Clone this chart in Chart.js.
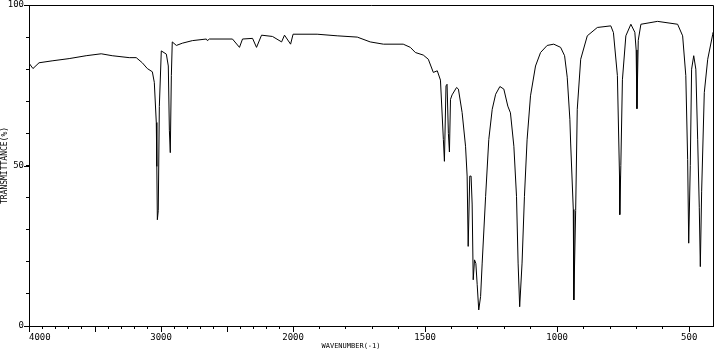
<!DOCTYPE html>
<html>
<head>
<meta charset="utf-8">
<script src="https://cdn.jsdelivr.net/npm/chart.js@4/dist/chart.umd.min.js"></script>
<style>
  html, body { margin: 0; padding: 0; background: #fff; }
  #wrap { width: 715px; height: 356px; }
</style>
</head>
<body>
<div id="wrap"><canvas id="chartIr"></canvas></div>
<script>
// IR spectrum — transmittance vs wavenumber (axis is compressed 2x above 2000 cm-1)
const wavenumbers = [
  4000, 3970, 3924, 3825, 3696, 3567, 3453, 3370, 3241, 3188, 3142, 3104, 3066, 3051, 3036, 3032,
  3028, 3021, 3013, 2998, 2960, 2945, 2937, 2930, 2922, 2915, 2884, 2839, 2763, 2657, 2649, 2634,
  2459, 2406, 2383, 2307, 2277, 2239, 2156, 2087, 2065, 2019, 2000, 1909, 1833, 1757, 1708, 1658,
  1583, 1556, 1537, 1507, 1488, 1469, 1454, 1442, 1431, 1427, 1421, 1417, 1412, 1408, 1404, 1398,
  1381, 1374, 1360, 1347, 1341, 1337, 1331, 1326, 1322, 1318, 1313, 1308, 1303, 1297, 1290, 1284,
  1271, 1259, 1246, 1233, 1217, 1202, 1187, 1177, 1164, 1154, 1148, 1142, 1133, 1124, 1114, 1101,
  1082, 1063, 1038, 1013, 987, 972, 962, 952, 949, 939, 937, 930, 924, 911, 886, 848,
  797, 787, 772, 764, 763, 759, 753, 740, 721, 706, 701, 698, 693, 683, 620, 544,
  525, 513, 506, 502, 496, 491, 483, 475, 468, 462, 458, 453, 443, 430, 411, 410
];
const transmittance = [
  81.9, 80.2, 82.0, 82.6, 83.3, 84.2, 84.8, 84.2, 83.6, 83.6, 82.0, 80.2, 79.2, 75.9, 63.4, 49.7,
  33.1, 36.0, 68.4, 85.7, 84.7, 81.0, 61.0, 54.0, 78.0, 88.5, 87.4, 88.1, 88.9, 89.4, 88.9, 89.4,
  89.4, 86.8, 89.4, 89.6, 86.8, 90.6, 90.2, 88.5, 90.6, 87.8, 90.9, 90.9, 90.4, 90.0, 88.5, 87.8,
  87.8, 86.8, 85.2, 84.4, 83.1, 79.0, 79.5, 76.6, 58.1, 51.3, 74.8, 75.3, 60.0, 54.2, 70.6, 72.0,
  74.3, 73.8, 66.5, 56.0, 46.7, 24.8, 46.7, 46.7, 38.0, 14.4, 20.6, 19.5, 13.0, 5.0, 9.2, 19.6,
  40.4, 58.1, 67.5, 72.2, 74.6, 73.8, 68.5, 66.4, 56.0, 40.4, 19.6, 6.0, 19.6, 40.4, 58.0, 71.7,
  81.0, 85.2, 87.4, 87.8, 86.8, 84.2, 77.5, 64.4, 57.0, 36.3, 8.1, 36.0, 67.5, 83.1, 90.4, 93.0,
  93.5, 91.4, 78.0, 46.7, 34.7, 50.0, 76.7, 90.4, 94.0, 91.5, 86.0, 67.7, 89.0, 94.0, 94.9, 94.0,
  90.4, 78.0, 51.9, 25.8, 50.0, 80.0, 84.2, 80.0, 58.0, 37.0, 18.5, 42.0, 72.7, 83.1, 90.9, 91.5
];
const xLabels = [4000, 3000, 2000, 1500, 1000, 500];
const xLongTicks = [4000, 3500, 3000, 2500, 2000, 1500, 1000, 500];
const yLabels = [0, 50, 100];
const wnMax = 4000, wnBreak = 2000, wnMin = 410;

// wavenumber -> axis units (half scale above the break)
function toAxis(w) {
  return w >= wnBreak ? wnMax - w : (wnMax - wnBreak) + 2 * (wnBreak - w);
}
function fromAxis(u) {
  var b = wnMax - wnBreak;
  return u <= b ? wnMax - u : wnBreak - (u - b) / 2;
}

const points = wavenumbers.map(function (w, i) {
  return { x: toAxis(w), y: transmittance[i] };
});

const tickFont = { family: 'DejaVu Sans Mono', size: 9 };

// frame, long tick marks and the x title
const framePlugin = {
  id: 'frame',
  afterDraw: function (chart) {
    var ctx = chart.ctx, a = chart.chartArea;
    var xs = chart.scales.x, ys = chart.scales.y;
    ctx.save();
    ctx.strokeStyle = '#000';
    ctx.lineWidth = 1;
    ctx.beginPath();
    ctx.moveTo(a.left, a.top + 0.5);
    ctx.lineTo(a.right + 0.5, a.top + 0.5);
    ctx.lineTo(a.right + 0.5, a.bottom);
    xLongTicks.forEach(function (w) {
      var px = Math.round(xs.getPixelForValue(toAxis(w))) + 0.5;
      ctx.moveTo(px, a.bottom);
      ctx.lineTo(px, a.bottom + 6);
    });
    yLabels.forEach(function (v) {
      var py = Math.round(ys.getPixelForValue(v)) + 0.5;
      ctx.moveTo(a.left - 5, py);
      ctx.lineTo(a.left, py);
    });
    ctx.stroke();
    ctx.fillStyle = '#000';
    ctx.font = '7px "DejaVu Sans Mono"';
    ctx.textAlign = 'center';
    ctx.textBaseline = 'middle';
    ctx.fillText('WAVENUMBER(-1)', 351, 346);
    ctx.restore();
  }
};

new Chart(document.getElementById('chartIr'), {
  type: 'scatter',
  data: {
    datasets: [{
      label: 'Transmittance',
      data: points,
      showLine: true,
      borderColor: '#000',
      borderWidth: 1,
      pointRadius: 0,
      tension: 0
    }]
  },
  options: {
    responsive: true,
    maintainAspectRatio: false,
    animation: false,
    devicePixelRatio: 1,
    layout: { padding: { top: 5, right: 2, left: 0, bottom: 0 } },
    plugins: { legend: { display: false }, tooltip: { enabled: false } },
    scales: {
      x: {
        type: 'linear',
        min: 0,
        max: toAxis(wnMin),
        afterBuildTicks: function (scale) {
          var ticks = [];
          for (var w = 4000; w >= 500; w -= 100) ticks.push({ value: toAxis(w) });
          ticks.push({ value: toAxis(wnMin) });
          scale.ticks = ticks;
        },
        afterFit: function (scale) {
          scale.height = 30;
          scale.paddingLeft = 0;
          scale.paddingRight = 0;
        },
        border: { display: true, color: '#000', width: 1 },
        grid: {
          drawOnChartArea: false,
          drawTicks: true,
          tickLength: 3,
          tickColor: function (c) {
            return c.tick && Math.round(fromAxis(c.tick.value)) < 500 ? 'rgba(0,0,0,0)' : '#000';
          }
        },
        ticks: {
          autoSkip: false,
          maxRotation: 0,
          padding: 3,
          color: '#000',
          font: tickFont,
          align: 'inner',
          callback: function (value) {
            var w = Math.round(fromAxis(value));
            return xLabels.indexOf(w) >= 0 ? String(w) : '';
          }
        }
      },
      y: {
        min: 0,
        max: 100,
        afterBuildTicks: function (scale) {
          var ticks = [];
          for (var v = 0; v <= 100; v += 10) ticks.push({ value: v });
          scale.ticks = ticks;
        },
        afterFit: function (scale) {
          scale.width = 29;
          scale.paddingTop = 0;
          scale.paddingBottom = 0;
        },
        border: { display: true, color: '#000', width: 1 },
        grid: { drawOnChartArea: false, drawTicks: true, tickLength: 3, tickColor: '#000' },
        ticks: {
          autoSkip: false,
          padding: 2,
          color: '#000',
          font: tickFont,
          callback: function (value) {
            return yLabels.indexOf(value) >= 0 ? String(value) : '';
          }
        },
        title: {
          display: true,
          text: 'TRANSMITTANCE(%)',
          color: '#000',
          font: { family: 'DejaVu Sans Mono', size: 8 },
          padding: { top: 0, bottom: 0 }
        }
      }
    }
  },
  plugins: [framePlugin]
});
</script>
</body>
</html>
